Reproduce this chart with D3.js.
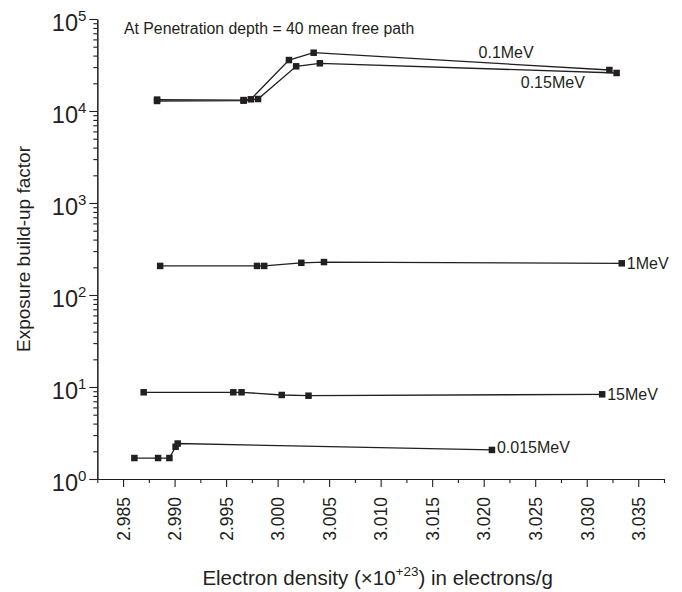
<!DOCTYPE html>
<html>
<head>
<meta charset="utf-8">
<script src="https://cdn.jsdelivr.net/npm/d3@7/dist/d3.min.js"></script>
<style>
  html, body { margin: 0; padding: 0; background: #fff; }
  svg { display: block; font-family: "Liberation Sans", Arial, Helvetica, sans-serif; }
</style>
</head>
<body>
<svg id="chart" width="682" height="592"></svg>
<script>
// Exposure build-up factor vs electron density, one series per photon energy
const seriesNames = ["0.1MeV", "0.15MeV", "1MeV", "15MeV", "0.015MeV"];

const density_0_1MeV   = [2.9883, 2.9967, 2.9974, 3.0011, 3.0035, 3.0322];
const buildup_0_1MeV   = [13300, 13150, 13400, 35800, 43000, 27900];

const density_0_15MeV  = [2.9883, 2.9967, 2.9981, 3.0018, 3.0041, 3.0329];
const buildup_0_15MeV  = [12850, 12950, 13500, 30600, 33000, 25900];

const density_1MeV     = [2.9886, 2.9980, 2.9987, 3.0023, 3.0045, 3.0334];
const buildup_1MeV     = [207, 207, 207, 224, 228, 221];

const density_15MeV    = [2.9870, 2.9957, 2.9965, 3.0004, 3.0030, 3.0315];
const buildup_15MeV    = [8.76, 8.76, 8.76, 8.19, 8.04, 8.33];

const density_0_015MeV = [2.9861, 2.9884, 2.9895, 2.9901, 2.9903, 3.0208];
const buildup_0_015MeV = [1.69, 1.69, 1.69, 2.24, 2.43, 2.07];

const xTickValues = [2.985, 2.990, 2.995, 3.000, 3.005, 3.010, 3.015, 3.020, 3.025, 3.030, 3.035];
const yTickExponents = [0, 1, 2, 3, 4, 5];

const densities = [density_0_1MeV, density_0_15MeV, density_1MeV, density_15MeV, density_0_015MeV];
const buildups  = [buildup_0_1MeV, buildup_0_15MeV, buildup_1MeV, buildup_15MeV, buildup_0_015MeV];

const series = seriesNames.map((name, i) => ({
  name,
  points: densities[i].map((d, j) => ({ x: d, y: buildups[i][j] }))
}));

const ink = "#231f20";
const margin = { left: 97.3, right: 18, top: 19, bottom: 113 };
const W = 682, H = 592;

const svg = d3.select("#chart");

const x = d3.scaleLinear().domain([2.9825, 3.0375]).range([margin.left, W - margin.right]);
const y = d3.scaleLog().domain([1, 1e5]).range([H - margin.bottom, margin.top]);

const x0 = margin.left, yBase = H - margin.bottom;

// ---- x axis: major ticks every 0.005, minor ticks halfway between
const xMinor = d3.range(0, 12).map(i => 2.9825 + i * 0.005);
svg.append("g")
  .attr("transform", `translate(0,${yBase})`)
  .call(d3.axisBottom(x).tickValues(xMinor).tickSize(4).tickSizeOuter(0).tickFormat(""))
  .call(g => g.selectAll("line,path").attr("stroke", ink).attr("stroke-width", 1.1));

const xAxis = svg.append("g")
  .attr("transform", `translate(0,${yBase})`)
  .call(d3.axisBottom(x).tickValues(xTickValues).tickSize(8).tickSizeOuter(0)
        .tickFormat(d3.format(".3f")));
xAxis.selectAll("line,path").attr("stroke", ink).attr("stroke-width", 1.1);
xAxis.selectAll("text")
  .attr("fill", ink)
  .attr("font-size", 17.5)
  .attr("text-anchor", "end")
  .attr("transform", "rotate(-90)")
  .attr("x", -18)
  .attr("y", 0)
  .attr("dy", "0.36em");

// ---- y axis: decades with 2..9 minor ticks
const yMinor = [];
for (let e = 0; e < 5; e++) for (let m = 2; m <= 9; m++) yMinor.push(m * Math.pow(10, e));
svg.append("g")
  .attr("transform", `translate(${x0},0)`)
  .call(d3.axisLeft(y).tickValues(yMinor).tickSize(4).tickSizeOuter(0).tickFormat(""))
  .call(g => g.selectAll("line,path").attr("stroke", ink).attr("stroke-width", 1.1));

const yAxis = svg.append("g")
  .attr("transform", `translate(${x0},0)`)
  .call(d3.axisLeft(y).tickValues(yTickExponents.map(e => Math.pow(10, e)))
        .tickSize(8).tickSizeOuter(0).tickFormat(""));
yAxis.selectAll("line,path").attr("stroke", ink).attr("stroke-width", 1.1);

const yLab = svg.append("g").attr("fill", ink);
yTickExponents.forEach(e => {
  const t = yLab.append("text")
    .attr("x", x0 - 11)
    .attr("y", y(Math.pow(10, e)) + 12)
    .attr("text-anchor", "end")
    .attr("font-size", 23.5);
  t.append("tspan").text("10");
  t.append("tspan").attr("font-size", 15).attr("dy", -10).text(String(e));
});

// ---- axis titles
const xt = svg.append("text")
  .attr("x", (x0 + W - margin.right) / 2 - 3)
  .attr("y", 585)
  .attr("text-anchor", "middle")
  .attr("font-size", 20.5)
  .attr("fill", ink);
xt.append("tspan").text("Electron density (\u00d710");
xt.append("tspan").attr("font-size", 13.5).attr("dy", -9).text("+23");
xt.append("tspan").attr("dy", 9).text(") in electrons/g");

svg.append("text")
  .attr("transform", `translate(30,${(margin.top + yBase) / 2}) rotate(-90)`)
  .attr("text-anchor", "middle")
  .attr("font-size", 19)
  .attr("fill", ink)
  .text("Exposure build-up factor");

// ---- series lines and square markers
const line = d3.line().x(d => x(d.x)).y(d => y(d.y));
const gS = svg.append("g");
series.forEach(s => {
  gS.append("path")
    .datum(s.points)
    .attr("d", line)
    .attr("fill", "none")
    .attr("stroke", ink)
    .attr("stroke-width", 1.3);
  gS.selectAll(null)
    .data(s.points)
    .join("rect")
    .attr("x", d => x(d.x) - 3.25)
    .attr("y", d => y(d.y) - 3.25)
    .attr("width", 6.5)
    .attr("height", 6.5)
    .attr("fill", ink);
});

// ---- series labels
const lab = svg.append("g").attr("fill", ink).attr("font-size", 16);
const lastOf = s => s.points[s.points.length - 1];
// 0.1 MeV above its line, 0.15 MeV beneath its line
lab.append("text").attr("x", x(3.0195)).attr("y", y(43250)).attr("dy", "0.35em").text(seriesNames[0]);
lab.append("text").attr("x", x(3.0236)).attr("y", y(20650)).attr("dy", "0.35em").text(seriesNames[1]);
// the rest sit just past their final point
[2, 3, 4].forEach(i => {
  const p = lastOf(series[i]);
  lab.append("text")
    .attr("x", x(p.x) + 5)
    .attr("y", y(p.y) + (i === 4 ? -3 : 0))
    .attr("dy", "0.35em")
    .text(seriesNames[i]);
});

svg.append("text")
  .attr("x", 124)
  .attr("y", 33.5)
  .attr("font-size", 15.8)
  .attr("fill", ink)
  .text("At Penetration depth = 40 mean free path");
</script>
</body>
</html>
